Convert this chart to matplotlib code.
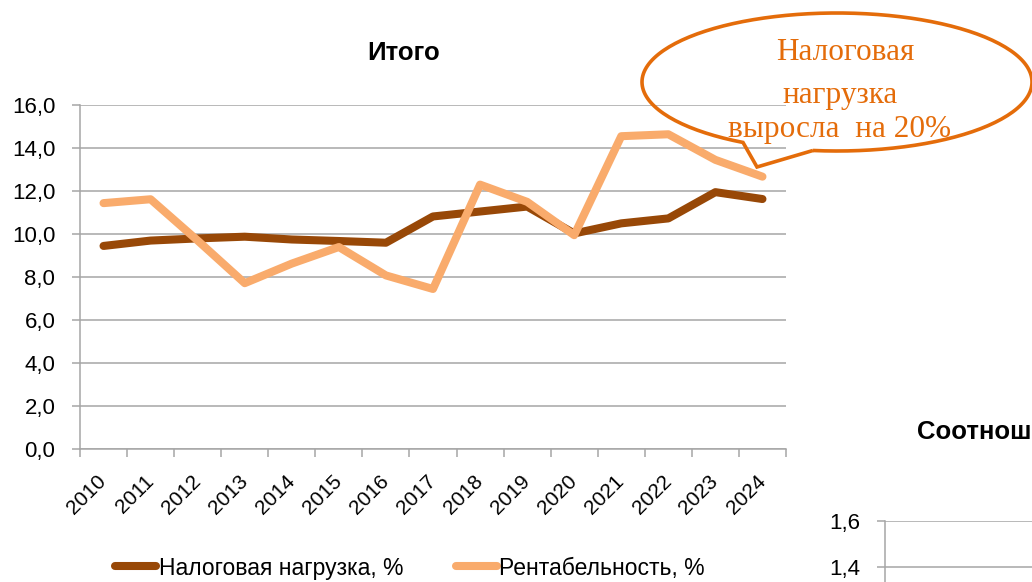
import numpy as np
import matplotlib
matplotlib.use('Agg')
import matplotlib.pyplot as plt
from matplotlib.path import Path
from matplotlib.patches import PathPatch
from matplotlib.lines import Line2D

plt.rcParams['font.family'] = ['Liberation Sans', 'DejaVu Sans']

# data
years = [str(y) for y in range(2010, 2025)]
tax_burden = [9.45, 9.7, 9.8, 9.88, 9.75, 9.68, 9.6, 10.82, 11.05, 11.28,
              10.03, 10.5, 10.73, 11.95, 11.63]
profitability = [11.44, 11.62, 9.7, 7.72, 8.63, 9.4, 8.08, 7.45, 12.3, 11.5,
                 9.95, 14.55, 14.64, 13.45, 12.67]
y_ticks = [0, 2, 4, 6, 8, 10, 12, 14, 16]
# only the top of the second chart is in view
ratio_ticks = [1.4, 1.6]

series_labels = ['Налоговая нагрузка, %', 'Рентабельность, %']
callout_lines = ['Налоговая', 'нагрузка', 'выросла  на 20%']

DARK = '#984807'
LIGHT = '#F9AB6C'
GRID = '#A6A6A6'
ORANGE = '#E46C0A'

W, H = 1032, 582
fig = plt.figure(figsize=(W / 100, H / 100), dpi=100)


def fx(px):
    return px / W


def fy(py):
    return 1 - py / H


def comma(v):
    return f'{v:.1f}'.replace('.', ',')


# main chart
ax = fig.add_axes([fx(80), fy(449.3), fx(786) - fx(80), fy(105) - fy(449.3)])
x = np.arange(len(years))
ax.plot(x, tax_burden, color=DARK, lw=5.8, solid_joinstyle='round',
        solid_capstyle='round', zorder=3)
ax.plot(x, profitability, color=LIGHT, lw=5.8, solid_joinstyle='round',
        solid_capstyle='round', zorder=3)
ax.set_xlim(-0.5, len(years) - 0.5)
ax.set_ylim(0, 16)
ax.set_yticks(y_ticks)
ax.set_yticklabels([comma(v) for v in y_ticks], fontsize=16)
ax.yaxis.grid(True, color=GRID, lw=1.1)
ax.set_axisbelow(True)
for s in ['top', 'right']:
    ax.spines[s].set_visible(False)
for s in ['left', 'bottom']:
    ax.spines[s].set_color(GRID)
    ax.spines[s].set_linewidth(1.1)
ax.tick_params(axis='y', length=5.8, color=GRID, width=1.1, pad=12)

ax.set_xticks(x)
ax.set_xticklabels(years, fontsize=15)
ax.set_xticks(np.arange(-0.5, len(years)), minor=True)
ax.tick_params(axis='x', which='major', length=0, pad=21)
ax.tick_params(axis='x', which='minor', length=5.8, color=GRID, width=1.1)
for lbl in ax.get_xticklabels():
    lbl.set_rotation(45)
    lbl.set_ha('right')
    lbl.set_va('center')
    lbl.set_rotation_mode('anchor')

fig.text(fx(404), fy(53), 'Итого', fontsize=18.5, fontweight='bold',
         ha='center', va='center')

handles = [Line2D([], [], color=DARK, lw=5.8, solid_capstyle='round'),
           Line2D([], [], color=LIGHT, lw=5.8, solid_capstyle='round')]
fig.legend(handles, series_labels, loc='center', bbox_to_anchor=(fx(410), fy(568)),
           ncol=2, frameon=False, fontsize=16.5, handlelength=1.8,
           handletextpad=0.1, columnspacing=2.3)

# callout bubble
cx, cy, a, b = 837, 82, 195, 69
t1 = np.arccos((743 - cx) / a)
t2 = np.arccos((813 - cx) / a)
ts = np.linspace(t2, t1 - 2 * np.pi, 200)
px = list(cx + a * np.cos(ts)) + [757]
py = list(cy + b * np.sin(ts)) + [167]
px.append(px[0])
py.append(py[0])
verts = [(fx(u), fy(v)) for u, v in zip(px, py)]
bubble = PathPatch(Path(verts), transform=fig.transFigure, facecolor='none',
                   edgecolor=ORANGE, lw=2.6, joinstyle='miter')
fig.add_artist(bubble)
for txt, (tx, ty) in zip(callout_lines, [(845, 53), (840, 95), (840, 129)]):
    fig.text(fx(tx), fy(ty), txt, fontsize=22.5, color=ORANGE,
             family=['Liberation Serif', 'DejaVu Serif'], ha='center', va='center')

# second chart, only its corner is visible
ax2 = fig.add_axes([fx(885), fy(520.7 + 8 * 46.6), 0.5, 8 * 46.6 / H])
ax2.set_ylim(0, 1.6)
ax2.set_xlim(0, 1)
ax2.set_yticks(ratio_ticks)
ax2.set_yticklabels([comma(v) for v in ratio_ticks], fontsize=16)
ax2.set_xticks([])
ax2.yaxis.grid(True, color=GRID, lw=1.1)
for s in ['top', 'right']:
    ax2.spines[s].set_visible(False)
for s in ['left', 'bottom']:
    ax2.spines[s].set_color(GRID)
    ax2.spines[s].set_linewidth(1.1)
ax2.tick_params(axis='y', length=5.8, color=GRID, width=1.1, pad=12)
fig.text(fx(1031), fy(432), 'Соотнош', fontsize=18.5, fontweight='bold',
         ha='right', va='center')

fig.savefig('out.png', dpi=100)
